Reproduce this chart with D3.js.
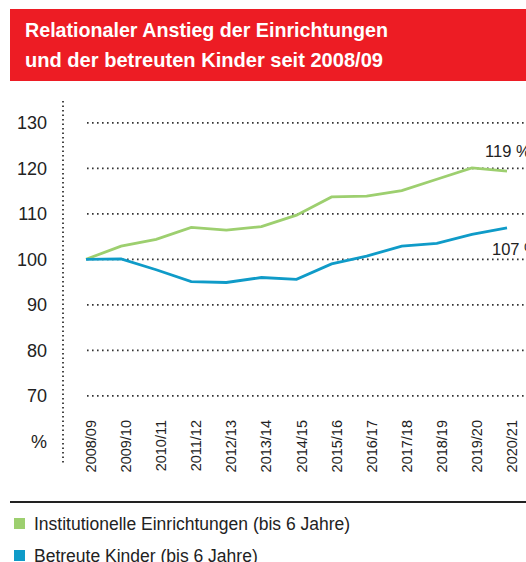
<!DOCTYPE html>
<html>
<head>
<meta charset="utf-8">
<script src="https://d3js.org/d3.v7.min.js"></script>
<style>
  body { margin: 0; background: #fff; }
  svg { display: block; }
</style>
</head>
<body>
<div id="chart"></div>
<script>
// data
const years = ["2008/09", "2009/10", "2010/11", "2011/12", "2012/13", "2013/14", "2014/15",
               "2015/16", "2016/17", "2017/18", "2018/19", "2019/20", "2020/21"]
const einrichtungen = [100, 102.9, 104.4, 107.0, 106.4, 107.2, 109.7, 113.7, 113.9, 115.1, 117.6, 120.1, 119.4]
const kinder = [100, 100.1, 97.7, 95.1, 94.9, 96.0, 95.6, 99.0, 100.7, 102.9, 103.5, 105.5, 106.9]
const yTicks = [70, 80, 90, 100, 110, 120, 130]
const seriesNames = ["Institutionelle Einrichtungen (bis 6 Jahre)", "Betreute Kinder (bis 6 Jahre)"]
const endLabels = ["119 %", "107 %"]
const titleLines = ["Relationaler Anstieg der Einrichtungen", "und der betreuten Kinder seit 2008/09"]

const width = 526
const height = 562
const green = "#9dcf6f"
const blue = "#0f9bc8"
const ink = "#222"

const svg = d3.select("#chart")
    .append("svg")
    .attr("width", width)
    .attr("height", height)
    .style("font-family", "Liberation Sans, Arial, sans-serif")

// red title bar
svg.append("rect")
    .attr("x", 10).attr("y", 9)
    .attr("width", width - 10).attr("height", 72)
    .attr("fill", "#ed1c24")

svg.selectAll(".title")
    .data(titleLines)
    .enter().append("text")
    .attr("class", "title")
    .attr("x", 25)
    .attr("y", (d, i) => 37 + i * 30)
    .attr("fill", "#fff")
    .style("font-family", "'Liberation Sans Narrow', 'Arial Narrow', 'Liberation Sans', sans-serif")
    .style("font-weight", "bold")
    .style("font-size", "21px")
    .attr("textLength", (d, i) => i == 0 ? 363 : 358)
    .attr("lengthAdjust", "spacingAndGlyphs")
    .text(d => d)

// scales
const x = d3.scalePoint()
    .domain(years)
    .range([86, 507])

const y = d3.scaleLinear()
    .domain([100, 110])
    .range([259.3, 213.8])

// dotted gridlines
svg.append("g")
    .selectAll("line")
    .data(yTicks)
    .enter().append("line")
    .attr("x1", 87).attr("x2", width)
    .attr("y1", d => y(d)).attr("y2", d => y(d))
    .attr("stroke", "#333")
    .attr("stroke-width", 1.8)
    .attr("stroke-dasharray", "1.6 3.4")

// dotted vertical axis
svg.append("line")
    .attr("x1", 63).attr("x2", 63)
    .attr("y1", 101).attr("y2", 464)
    .attr("stroke", "#333")
    .attr("stroke-width", 1.8)
    .attr("stroke-dasharray", "1.6 2.9")

// y tick labels, "%" sits in the slot of 60
const yAxis = svg.append("g")
    .attr("transform", "translate(47,0)")
    .call(d3.axisLeft(y).tickValues(yTicks.concat([60])).tickSize(0).tickPadding(0)
        .tickFormat(d => d == 60 ? "%" : d))
yAxis.select(".domain").remove()
yAxis.selectAll("text")
    .attr("fill", ink)
    .style("font-size", "18px")
    .style("font-family", "Liberation Sans, Arial, sans-serif")

// x labels, rotated
const xAxis = svg.append("g")
    .attr("transform", "translate(0,420)")
    .call(d3.axisBottom(x).tickSize(0).tickPadding(0))
xAxis.select(".domain").remove()
xAxis.selectAll("text")
    .attr("transform", "rotate(-90)")
    .attr("text-anchor", "end")
    .attr("x", 0)
    .attr("y", 4.5)
    .attr("dy", "0.35em")
    .attr("fill", ink)
    .style("font-size", "14.5px")
    .style("font-family", "Liberation Sans, Arial, sans-serif")

// lines
const line = d3.line()
    .x((d, i) => x(years[i]))
    .y(d => y(d))

svg.append("path")
    .datum(einrichtungen)
    .attr("d", line)
    .attr("fill", "none")
    .attr("stroke", green)
    .attr("stroke-width", 2.8)

svg.append("path")
    .datum(kinder)
    .attr("d", line)
    .attr("fill", "none")
    .attr("stroke", blue)
    .attr("stroke-width", 2.8)

// end labels
svg.append("text")
    .attr("x", 485).attr("y", 157)
    .attr("fill", ink)
    .style("font-size", "16.5px")
    .text(endLabels[0])

svg.append("text")
    .attr("x", 492).attr("y", 255)
    .attr("fill", ink)
    .style("font-size", "16.5px")
    .text(endLabels[1])

// legend
svg.append("line")
    .attr("x1", 10).attr("x2", width)
    .attr("y1", 502).attr("y2", 502)
    .attr("stroke", "#222")
    .attr("stroke-width", 2)

const legend = svg.selectAll(".legend")
    .data(seriesNames)
    .enter().append("g")
    .attr("class", "legend")
    .attr("transform", (d, i) => "translate(0," + (i * 32) + ")")

legend.append("rect")
    .attr("x", 14).attr("y", 518)
    .attr("width", 11).attr("height", 11)
    .attr("fill", (d, i) => i == 0 ? green : blue)

legend.append("text")
    .attr("x", 34).attr("y", 530)
    .attr("fill", ink)
    .style("font-size", "17.5px")
    .text(d => d)
</script>
</body>
</html>
